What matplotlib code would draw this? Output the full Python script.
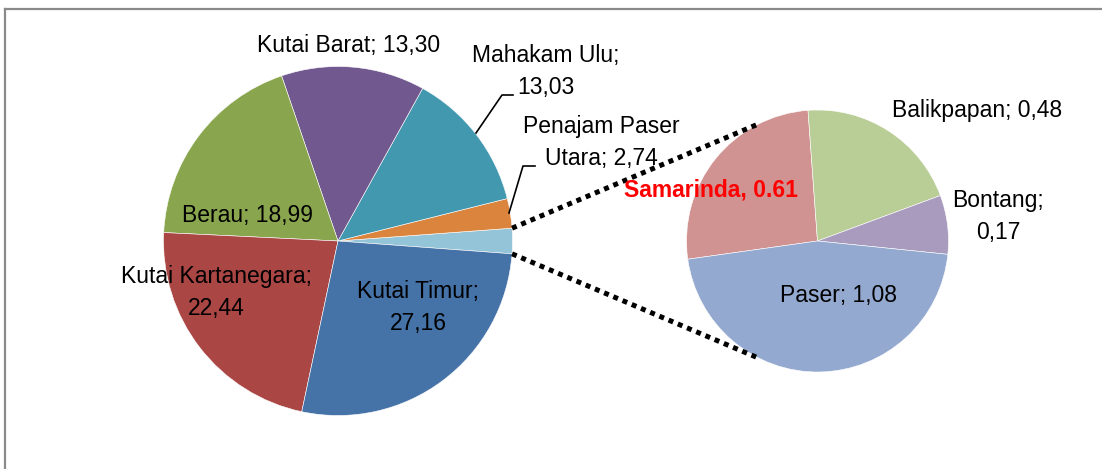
import matplotlib
import matplotlib.pyplot as plt
import numpy as np
from matplotlib.lines import Line2D

matplotlib.use('Agg')

# data
main_names = ['Kutai Timur', 'Kutai Kartanegara', 'Berau', 'Kutai Barat', 'Mahakam Ulu', 'Penajam Paser Utara']
main_values = [27.16, 22.44, 18.99, 13.30, 13.03, 2.74]
main_colors = ['#4572A7', '#AA4643', '#89A54E', '#71588F', '#4198AF', '#DB843D']
sub_names = ['Samarinda', 'Balikpapan', 'Bontang', 'Paser']
sub_values = [0.61, 0.48, 0.17, 1.08]
sub_colors = ['#D19392', '#B9CD96', '#A99BBD', '#93A9CF']
other_color = '#93C4D7'

W, H = 1102, 469
plt.rcParams['font.family'] = ['Liberation Sans', 'DejaVu Sans']
FS = 16.5


def lab(name, v):
    return f'{name}; {v:.2f}'.replace('.', ',')


def P(x, y):
    """pixel coords (y from top) -> data coords"""
    return x, H - y


fig = plt.figure(figsize=(W / 100, H / 100), dpi=100)
ax = fig.add_axes([0, 0, 1, 1])

other = sum(sub_values)
total = sum(main_values) + other
half = other / total * 180

# main pie: "other" slice centred on the right, then counter-clockwise
vals = [other] + main_values[::-1]
cols = [other_color] + main_colors[::-1]
main_c, main_r = P(338, 241), 174.5
ax.pie(vals, colors=cols, startangle=-half, counterclock=True, center=main_c, radius=main_r,
       wedgeprops=dict(linewidth=0.4, edgecolor='white'), frame=True)

# second pie
sub_c, sub_r = P(817.5, 241), 131
ax.pie(sub_values, colors=sub_colors, startangle=188, counterclock=False, center=sub_c, radius=sub_r,
       wedgeprops=dict(linewidth=0.4, edgecolor='white'), frame=True)

# series lines
for sgn in (1, -1):
    a0 = np.radians(sgn * half)
    a1 = np.radians(sgn * 116)
    x0 = main_c[0] + main_r * np.cos(a0)
    y0 = main_c[1] + main_r * np.sin(a0)
    x1 = sub_c[0] + sub_r * np.cos(a1)
    y1 = sub_c[1] + sub_r * np.sin(a1)
    ax.plot([x0, x1], [y0, y1], color='black', lw=3.6, linestyle=(0, (1, 1)),
            dash_capstyle='butt', zorder=5)

# leader lines
ax.plot(*zip(P(476, 133), P(502, 95), P(513, 95)), color='black', lw=1.2, zorder=4)
ax.plot(*zip(P(509, 213), P(523, 166), P(535, 166)), color='black', lw=1.2, zorder=4)

# y = baseline of the last line
kw = dict(fontsize=FS, ha='center', va='baseline', linespacing=1.5, zorder=6)
ax.text(*P(349, 52), lab(main_names[3], main_values[3]), **kw)
ax.text(*P(546, 94), lab(main_names[4], main_values[4]).replace(' 1', '\n1'), **kw)
ax.text(*P(601, 165), 'Penajam Paser\n' + lab('Utara', main_values[5]), **kw)
ax.text(*P(248, 222), lab(main_names[2], main_values[2]), **kw)
ax.text(*P(216, 315), lab(main_names[1], main_values[1]).replace(' 2', '\n2'), **kw)
ax.text(*P(418, 330), lab(main_names[0], main_values[0]).replace(' 2', '\n2'), **kw)
ax.text(*P(711, 196), f'{sub_names[0]}, {sub_values[0]:.2f}', color='red', fontweight='bold',
        **kw)
ax.text(*P(977, 117), lab(sub_names[1], sub_values[1]), **kw)
ax.text(*P(998, 239), lab(sub_names[2], sub_values[2]).replace(' 0', '\n0'), **kw)
ax.text(*P(839, 302), lab(sub_names[3], sub_values[3]), **kw)

ax.set_xlim(0, W)
ax.set_ylim(0, H)
ax.axis('off')

# chart border (only top and left visible)
fig.add_artist(Line2D([5 / W, 1], [1 - 8.8 / H, 1 - 8.8 / H], color='#8a8a8a', lw=1.6))
fig.add_artist(Line2D([5.2 / W, 5.2 / W], [0, 1 - 8.8 / H], color='#8a8a8a', lw=1.6))

fig.savefig('out.png', dpi=100, facecolor='white')
